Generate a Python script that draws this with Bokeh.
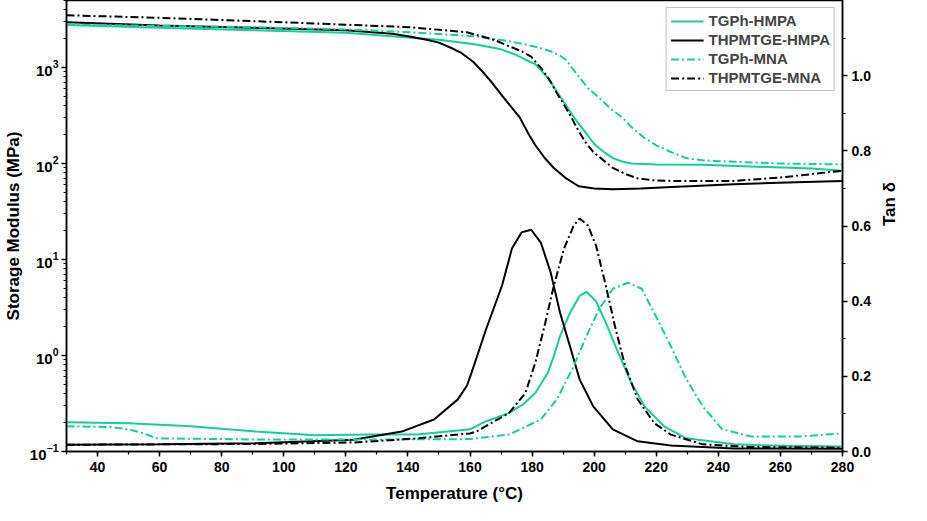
import math
from bokeh.plotting import figure
from bokeh.models import (Range1d, LinearAxis, LinearScale, SingleIntervalTicker, PrintfTickFormatter,
                          Legend, LegendItem, LogTicker)
from bokeh.embed import file_html
from bokeh.resources import INLINE

# ---------------- data ----------------
GREEN = "#12CF9C"
BLACK = "#000000"

# Storage modulus (MPa)
e_tgph_hmpa_T = [30, 60, 90, 120, 141, 150, 162, 170, 175, 178, 181, 185, 188, 190, 193, 195, 198, 200, 203, 206, 209, 212, 220, 235, 256, 270, 280]
e_tgph_hmpa = [2770, 2600, 2450, 2300, 2050, 1950, 1740, 1550, 1350, 1200, 1090, 785, 560, 450, 320, 260, 195, 160, 133, 114, 105, 100, 98, 97, 92, 89, 84]

e_thp_hmpa_T = [30, 60, 90, 120, 135, 141, 146, 150, 154, 157, 161, 164, 167, 170, 173, 176, 179, 181, 184, 187, 191, 195, 200, 206, 215, 225, 245, 265, 280]
e_thp_hmpa = [2960, 2750, 2600, 2450, 2250, 2100, 1950, 1820, 1600, 1435, 1150, 910, 700, 525, 400, 303, 200, 156, 115, 90, 70, 58, 55, 54, 55, 57, 61, 64, 66]

e_tgph_mna_T = [30, 60, 91, 120, 141, 162, 172, 178, 182, 186, 189, 191, 193, 195.3, 198, 201.6, 205, 209, 212, 216, 220, 224.7, 229.7, 235, 240, 260, 280]
e_tgph_mna = [2820, 2720, 2630, 2500, 2330, 2110, 1900, 1740, 1620, 1480, 1330, 1200, 980, 785, 610, 485, 380, 303, 240, 187, 155, 132, 114, 108, 106, 100, 98]

e_thp_mna_T = [30, 60, 90, 120, 141, 159, 164, 168, 172, 176.6, 179.7, 183, 186, 188, 190.3, 192.5, 194.4, 197, 199.7, 203, 206, 210, 214, 219, 225, 245, 261, 276.6, 280]
e_thp_mna = [3510, 3300, 3050, 2800, 2630, 2330, 2110, 1930, 1700, 1480, 1300, 980, 713, 540, 410, 310, 236, 170, 132, 108, 90, 78, 70, 67, 66, 66, 72, 82, 84]

# Tan delta
t_tgph_hmpa_T = [30, 50, 70, 91, 110, 128, 143, 160, 165, 172.5, 177, 181, 185, 187, 189, 192.2, 195.3, 197.5, 200.6, 203.75, 207.8, 212, 216.25, 222.5, 229.7, 245, 262, 280]
t_tgph_hmpa = [0.078, 0.075, 0.067, 0.053, 0.043, 0.045, 0.045, 0.059, 0.08, 0.102, 0.125, 0.155, 0.208, 0.254, 0.307, 0.369, 0.414, 0.425, 0.40, 0.343, 0.262, 0.182, 0.12, 0.067, 0.035, 0.019, 0.015, 0.013]

t_thp_hmpa_T = [30, 60, 91, 122.5, 138, 148.4, 156, 159, 160.5, 165.2, 170.3, 173.5, 176.6, 179.7, 182.8, 186, 189, 192.2, 195.3, 199.7, 206, 214, 224.7, 245, 280]
t_thp_hmpa = [0.018, 0.019, 0.022, 0.031, 0.053, 0.085, 0.138, 0.175, 0.21, 0.326, 0.441, 0.54, 0.583, 0.59, 0.556, 0.476, 0.369, 0.28, 0.192, 0.12, 0.059, 0.027, 0.016, 0.008, 0.007]

t_tgph_mna_T = [30, 44, 50, 55, 59, 91, 133, 160, 172.5, 182.8, 188, 193.4, 197.5, 201.6, 206, 210.9, 215.3, 220.3, 224.7, 229.7, 235, 241.25, 250.6, 266, 280]
t_tgph_mna = [0.067, 0.065, 0.059, 0.048, 0.035, 0.032, 0.032, 0.033, 0.045, 0.085, 0.139, 0.227, 0.307, 0.379, 0.433, 0.449, 0.433, 0.353, 0.28, 0.192, 0.12, 0.059, 0.04, 0.04, 0.048]

t_thp_mna_T = [30, 91, 122.5, 143.4, 160, 162, 172.5, 177.8, 181, 184, 187, 190.3, 193.4, 195.3, 198, 200.6, 203.75, 206.9, 210, 214, 219.4, 224.7, 235, 250, 280]
t_thp_mna = [0.018, 0.02, 0.024, 0.035, 0.048, 0.053, 0.102, 0.155, 0.235, 0.334, 0.441, 0.54, 0.601, 0.62, 0.601, 0.548, 0.441, 0.326, 0.227, 0.139, 0.075, 0.045, 0.019, 0.012, 0.01]

labels = ["TGPh-HMPA", "THPMTGE-HMPA", "TGPh-MNA", "THPMTGE-MNA"]

x_label = "Temperature (°C)"
y_label = "Storage Modulus (MPa)"
y2_label = "Tan δ"

# ---------------- figure ----------------
FONT = "Liberation Sans"
DASH = "8 3 2 3"

p = figure(width=911, height=505, output_backend="svg", toolbar_location=None,
           x_range=Range1d(30, 280), y_range=Range1d(0.1, 5000), y_axis_type="log",
           min_border_left=50, min_border_right=50, min_border_top=0, min_border_bottom=50)
p.title.visible = False
p.extra_y_ranges = {"tan": Range1d(0, 1.2)}
p.extra_y_scales = {"tan": LinearScale()}

p.grid.visible = False
p.outline_line_color = "black"
p.outline_line_width = 1.5
p.outline_line_alpha = 1.0
p.background_fill_color = "white"
p.border_fill_color = "white"


def style_axis(ax, label_size="14px", title_size="17px"):
    ax.axis_line_width = 1.5
    ax.axis_line_color = "black"
    ax.major_tick_line_width = 1.5
    ax.minor_tick_line_width = 1.2
    ax.major_tick_in = 0
    ax.major_tick_out = 5
    ax.minor_tick_in = 0
    ax.minor_tick_out = 3
    ax.major_label_text_font = FONT
    ax.major_label_text_font_style = "bold"
    ax.major_label_text_font_size = label_size
    ax.major_label_text_color = "black"
    ax.axis_label_text_font = FONT
    ax.axis_label_text_font_style = "bold"
    ax.axis_label_text_font_size = title_size
    ax.axis_label_text_color = "black"


xa = p.xaxis[0]
xa.ticker = SingleIntervalTicker(interval=20, num_minor_ticks=2)
xa.axis_label = x_label
style_axis(xa)
xa.major_label_standoff = 5
xa.axis_label_standoff = 9

ya = p.yaxis[0]
ya.ticker = LogTicker(num_minor_ticks=10)
ya.axis_label = y_label
style_axis(ya, label_size="15px")
ya.major_label_standoff = 3
ya.axis_label_standoff = 4

ra = LinearAxis(y_range_name="tan", axis_label=y2_label)
ra.ticker = SingleIntervalTicker(interval=0.2, num_minor_ticks=2)
ra.formatter = PrintfTickFormatter(format="%.1f")
style_axis(ra)
ra.major_label_standoff = 4
ra.axis_label_standoff = 16
if "axis_label_orientation" in ra.properties():
    ra.axis_label_orientation = math.pi / 2
p.add_layout(ra, "right")

# storage modulus lines
l1 = p.line(e_tgph_hmpa_T, e_tgph_hmpa, line_color=GREEN, line_width=2)
l2 = p.line(e_thp_hmpa_T, e_thp_hmpa, line_color=BLACK, line_width=2)
l3 = p.line(e_tgph_mna_T, e_tgph_mna, line_color=GREEN, line_width=2, line_dash=DASH)
l4 = p.line(e_thp_mna_T, e_thp_mna, line_color=BLACK, line_width=2, line_dash=DASH)

# tan delta lines
p.line(t_tgph_hmpa_T, t_tgph_hmpa, line_color=GREEN, line_width=2, y_range_name="tan")
p.line(t_thp_hmpa_T, t_thp_hmpa, line_color=BLACK, line_width=2, y_range_name="tan")
p.line(t_tgph_mna_T, t_tgph_mna, line_color=GREEN, line_width=2, line_dash=DASH, y_range_name="tan")
p.line(t_thp_mna_T, t_thp_mna, line_color=BLACK, line_width=2, line_dash=DASH, y_range_name="tan")

legend = Legend(items=[LegendItem(label=lab, renderers=[r]) for lab, r in zip(labels, [l1, l2, l3, l4])],
                location="top_right")
legend.label_text_font = FONT
legend.label_text_font_style = "bold"
legend.label_text_font_size = "15px"
legend.label_height = 16
legend.label_standoff = 5
legend.glyph_width = 33
legend.glyph_height = 16
legend.spacing = 2
legend.padding = 4
legend.margin = 7
legend.border_line_color = "#888888"
legend.border_line_width = 1.2
legend.background_fill_alpha = 1.0
p.add_layout(legend)

open("out.html", "w").write(file_html(p, INLINE))
